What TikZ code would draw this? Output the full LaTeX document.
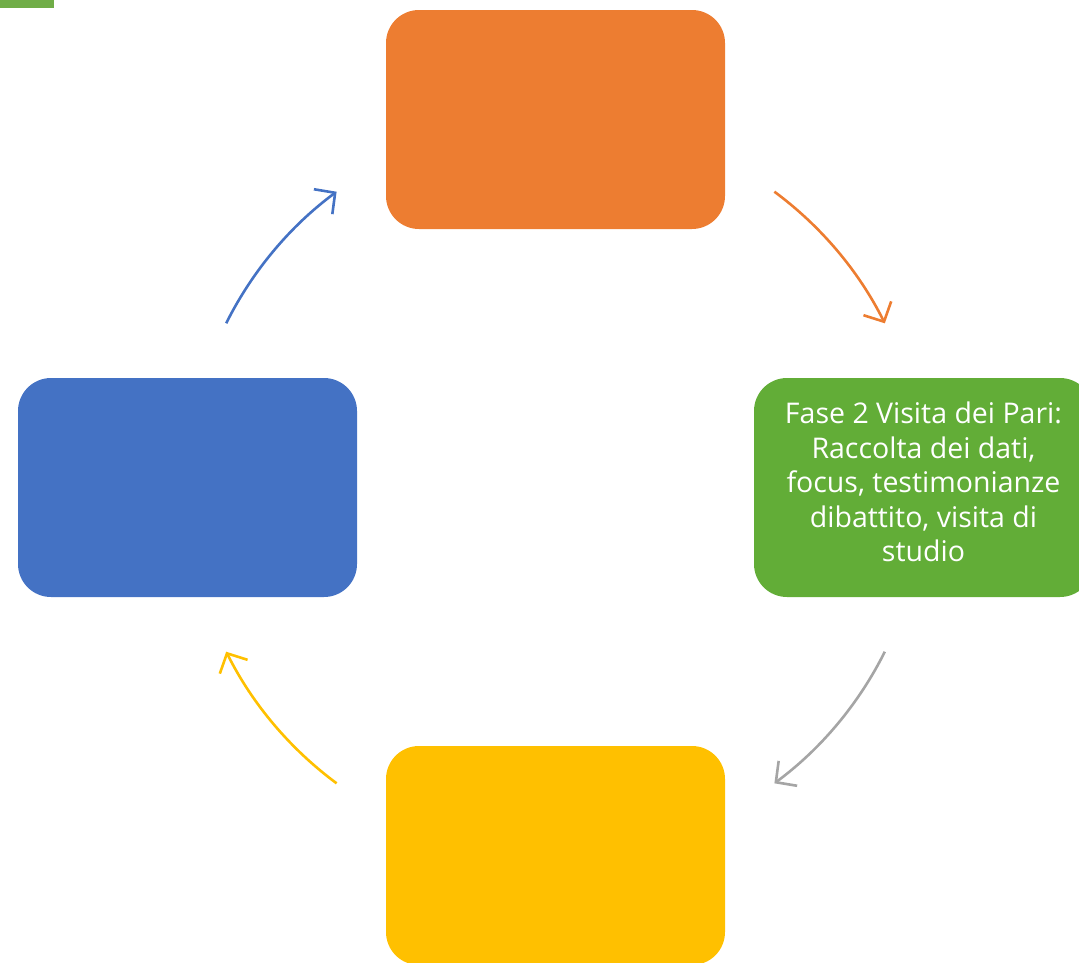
\documentclass[tikz,border=0pt]{standalone}
\usepackage{fontspec}
\setmainfont{Open Sans}
\usetikzlibrary{arrows.meta}

\definecolor{orangefill}{RGB}{237,125,49}
\definecolor{greenfill}{RGB}{98,173,55}
\definecolor{greenmark}{RGB}{112,173,71}
\definecolor{yellowfill}{RGB}{255,192,0}
\definecolor{bluefill}{RGB}{68,114,196}
\definecolor{grayline}{RGB}{165,165,165}

\begin{document}
\begin{tikzpicture}[x=1pt,y=1pt]
		\tikzstyle {phase box} = [rounded corners=33pt, minimum width=339pt, minimum height=219pt, inner sep=0pt, text=white]
		\tikzstyle {phase text} = [text=white, align=center, font=\fontsize{28.5}{34.5}\selectfont, yshift=5.5pt]
		\tikzstyle {cycle arrow} = [line width=2.6pt, -{Straight Barb[length=15pt,width=31pt]}]

		\useasboundingbox (0,0) rectangle (1079,-962);
		\clip (0,0) rectangle (1079,-962);

		\fill[greenmark] (0,0) rectangle (54,-8);

		\coordinate (c) at (555.5,-487.5);

		\node[phase box, fill=orangefill] (topbox) at (555.5,-119.5) {};
		\node[phase box, fill=greenfill, label={[phase text]center:{Fase 2 Visita dei Pari:\\Raccolta dei dati,\\focus, testimonianze\\dibattito, visita di\\studio}}] (rightbox) at (923.5,-487.5) {};
		\node[phase box, fill=yellowfill] (bottombox) at (555.5,-855.5) {};
		\node[phase box, fill=bluefill] (leftbox) at (187.5,-487.5) {};

		\foreach \mid/\col in {40/orangefill, -40/grayline, -140/yellowfill, 140/bluefill}
			\draw[cycle arrow, \col] ([shift={(\mid+13.5:368)}]c) arc[start angle=\mid+13.5, end angle=\mid-13.5, radius=368];
	\end{tikzpicture}
\end{document}
